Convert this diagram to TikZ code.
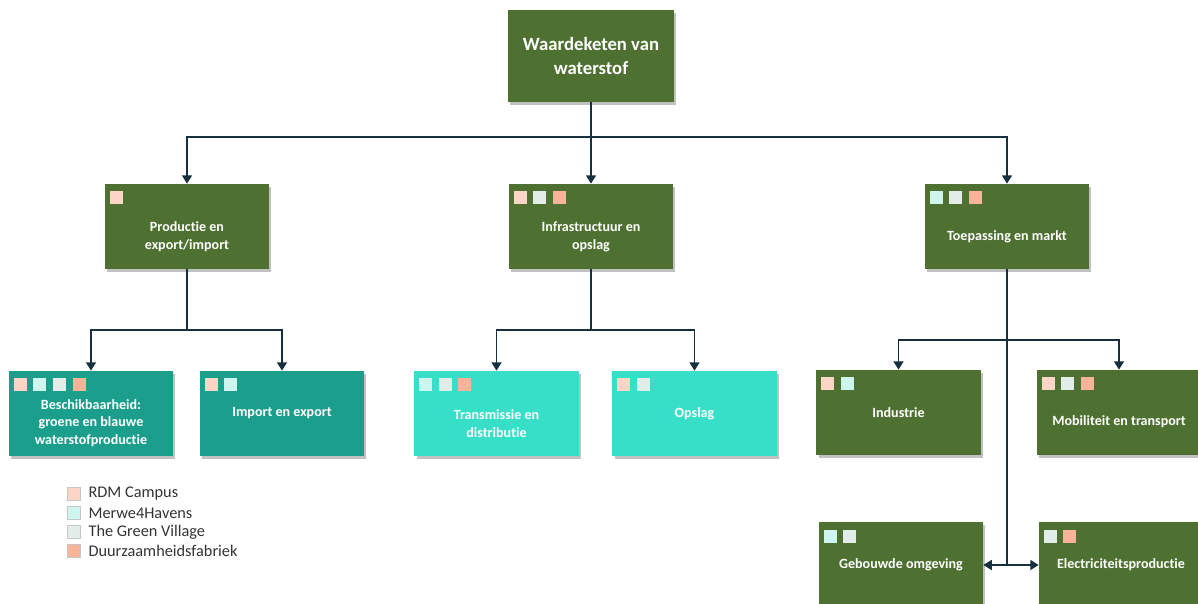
\documentclass[tikz,border=0pt]{standalone}
\usepackage{fontspec}
\setmainfont{Carlito}[RawFeature=-liga]
\usepackage{tikz}
\usetikzlibrary{arrows.meta, positioning, shadows}

\definecolor{dkgreen}{HTML}{4E7131}
\definecolor{teal}{HTML}{1B9E8B}
\definecolor{aqua}{HTML}{38DFC8}
\definecolor{linec}{HTML}{17303F}
\definecolor{rdm}{HTML}{FCD5C6}
\definecolor{merwe}{HTML}{CFF5EF}
\definecolor{tgv}{HTML}{E2ECE9}
\definecolor{dzf}{HTML}{F9B497}

\tikzset{
  chain/.style={rectangle, minimum width=4.1cm, minimum height=2.125cm, inner sep=0pt,
    drop shadow={shadow xshift=1.5pt, shadow yshift=-2pt, opacity=0.35, fill=black!70}},
  greenbox/.style={chain, fill=dkgreen},
  tealbox/.style={chain, fill=teal},
  aquabox/.style={chain, fill=aqua},
  boxtext/.style={text=white, font=\bfseries\fontsize{10}{12.5}\selectfont, align=center},
  sq/.style={rectangle, minimum size=0.325cm, inner sep=0pt, anchor=north west},
  legsq/.style={sq, anchor=center, draw=gray!45, line width=0.4pt},
  legtext/.style={text=black!80, font=\fontsize{11.6}{13}\selectfont, inner sep=0pt, anchor=west},
  conn/.style={draw=linec, line width=1.4pt},
  arr/.style={conn, -{Triangle[width=7pt,length=6pt]}},
  dblarr/.style={conn, {Triangle[width=7pt,length=6pt]}-{Triangle[width=7pt,length=6pt]}}
}

% box with text and the small legend squares in its corner
\newcommand{\chainbox}[6]{%
  \node[#1] (#2) at (#3) {};
  \node[boxtext] (#2-t) at ([yshift=#4]#2.center) {#5};
  \foreach \c [count=\i] in {#6}
    \node[sq, fill=\c] (#2-s\i) at ([xshift={0.12cm+(\i-1)*0.49cm}, yshift=-0.18cm]#2.north west) {};
}

\begin{document}
\begin{tikzpicture}[x=0.025cm, y=-0.025cm]
  \useasboundingbox (0,0) rectangle (1198,604);

  % top
  \node[greenbox, minimum width=4.15cm, minimum height=2.3cm] (top) at (591,56) {};
  \node[boxtext, font=\bfseries\fontsize{13.3}{17.5}\selectfont] (top-t) at (top.center) {Waardeketen van\\waterstof};

  % second level
  \chainbox{greenbox}{prod}{187,226.5}{-0.26cm}{Productie en\\export/import}{rdm}
  \chainbox{greenbox}{infra}{591,226.5}{-0.26cm}{Infrastructuur en\\opslag}{rdm,tgv,dzf}
  \chainbox{greenbox}{toep}{1007,226.5}{-0.26cm}{Toepassing en markt}{merwe,tgv,dzf}

  % third level
  \chainbox{tealbox}{besch}{91,413.5}{-0.24cm}{Beschikbaarheid:\\groene en blauwe\\waterstofproductie}{rdm,merwe,tgv,dzf}
  \chainbox{tealbox}{imp}{282,413.5}{0cm}{Import en export}{rdm,merwe}
  \chainbox{aquabox}{trans}{496.5,413.5}{-0.25cm}{Transmissie en\\distributie}{merwe,tgv,dzf}
  \chainbox{aquabox}{opslag}{694.5,413.5}{0cm}{Opslag}{rdm,tgv}
  \chainbox{greenbox}{ind}{898.5,412.5}{0cm}{Industrie}{rdm,merwe}
  \chainbox{greenbox}{mob}{1119,412.5}{-0.22cm}{Mobiliteit en transport}{rdm,tgv,dzf}
  \chainbox{greenbox}{geb}{901,565}{0cm}{Gebouwde omgeving}{merwe,tgv}
  \chainbox{greenbox}{elec}{1121,565}{0cm}{Electriciteitsproductie}{tgv,dzf}

  % connectors
  \coordinate (j1) at (591,137);
  \coordinate (j2) at (187,330);
  \coordinate (j3) at (591,330);
  \coordinate (j4) at (1007,340);
  \coordinate (j5) at (1007,565);
  \draw[conn] (top.south) -- (j1);
  \draw[arr] (j1) -| (prod.north);
  \draw[arr] (j1) -- (infra.north);
  \draw[arr] (j1) -| (toep.north);
  \draw[conn] (prod.south) -- (j2);
  \draw[arr] (j2) -| (besch.north);
  \draw[arr] (j2) -| (imp.north);
  \draw[conn] (infra.south) -- (j3);
  \draw[arr] (j3) -| (trans.north);
  \draw[arr] (j3) -| (opslag.north);
  \draw[conn] (toep.south) -- (j5);
  \draw[arr] (j4) -| (ind.north);
  \draw[arr] (j4) -| (mob.north);
  \draw[dblarr] (geb.east) -- (elec.west);

  % legend
  \foreach \c/\t [count=\i] in {rdm/RDM Campus, merwe/Merwe4Havens, tgv/The Green Village, dzf/Duurzaamheidsfabriek} {
    \node[legsq, fill=\c] (leg\i) at (73.5,475+\i*19) {};
    \node[legtext, right=0.2cm of leg\i] (leg\i-t) {\t};
  }
\end{tikzpicture}
\end{document}
